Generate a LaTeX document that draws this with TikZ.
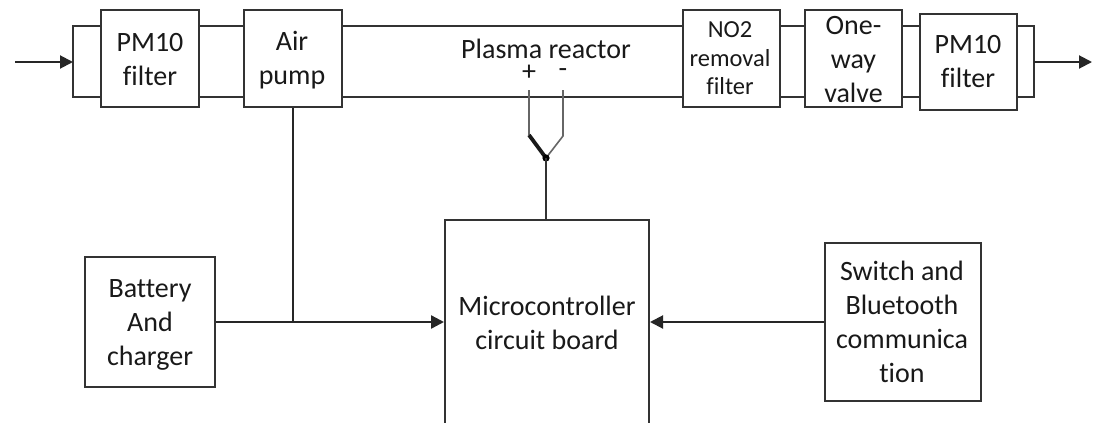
\documentclass[tikz,border=0pt]{standalone}
\usepackage{fontspec}
\setmainfont[Ligatures=NoCommon]{Carlito}
\usetikzlibrary{arrows.meta}
\definecolor{linecol}{gray}{0.2}
\definecolor{textcol}{gray}{0.1}
\tikzset{
  every node/.style={text=textcol,font=\fontsize{28}{34}\selectfont},
  box/.style={draw=linecol,line width=2pt,fill=white,inner sep=0pt,align=center},
  lbl/.style={inner sep=0pt,align=center},
  wire/.style={draw=linecol,line width=2pt},
  thinwire/.style={draw=black!60,line width=1.6pt},
  sig/.style={draw=black!85,line width=2pt},
  arr/.style={sig,-{Triangle[length=13pt,width=13pt]}},
}
\begin{document}
\begin{tikzpicture}[x=1pt,y=-1pt]
\useasboundingbox (0,0) rectangle (1095,423);
\clip (0,0) rectangle (1095,423);
\fill[white] (0,0) rectangle (1095,423);
% rail levels and free ends
\coordinate (rt) at (0,26);
\coordinate (rb) at (0,97);
\coordinate (lc) at (73,62);
\coordinate (rc) at (1034,62);
\coordinate (inlet) at (15,62);
\coordinate (outlet) at (1092,62);
% boxes
\node[box,minimum width=98pt,minimum height=97pt] (pma) at (150,58.5) {};
\node[lbl] (pmatxt) at (150,60) {PM10\\filter};
\node[box,minimum width=98pt,minimum height=97pt] (air) at (293,58.5) {};
\node[lbl] (airtxt) at (292,60) {Air\\pump};
\node[box,minimum width=97pt,minimum height=97pt] (no2) at (731.5,58.5) {};
\node[lbl,font=\fontsize{24.5}{28.5}\selectfont] (no2txt) at (730,58.5) {NO2\\removal\\filter};
\node[box,minimum width=97pt,minimum height=97pt] (valve) at (853.5,58.5) {};
\node[lbl] (valvetxt) at (853.5,60) {One-\\way\\valve};
\node[box,minimum width=97pt,minimum height=96pt] (pmb) at (968.5,62) {};
\node[lbl] (pmbtxt) at (968,62) {PM10\\filter};
\node[box,minimum width=130pt,minimum height=130pt] (bat) at (150,322) {};
\node[lbl] (battxt) at (150,325) {Battery\\And\\charger};
\node[box,minimum width=204pt,minimum height=210pt] (mcu) at (547,325) {};
\node[lbl] (mcutxt) at (547,323) {Microcontroller\\circuit board};
\node[box,minimum width=156pt,minimum height=158pt] (sw) at (903,322) {};
\node[lbl] (swtxt) at (902,322) {Switch and\\Bluetooth\\communica\\tion};
\node[lbl,font=\fontsize{28}{30}\selectfont] (plasma) at (546,49) {Plasma reactor};
\node[lbl] (plus) at (529,73) {+};
\node[lbl] (minus) at (563,73) {-};
% reactor rails
\foreach \r in {rt,rb}{
  \draw[wire] (lc |- \r) -- (pma.west |- \r);
  \draw[wire] (pma.east |- \r) -- (air.west |- \r);
  \draw[wire] (air.east |- \r) -- (no2.west |- \r);
  \draw[wire] (no2.east |- \r) -- (valve.west |- \r);
  \draw[wire] (valve.east |- \r) -- (pmb.west |- \r);
  \draw[wire] (pmb.east |- \r) -- (rc |- \r);
}
\draw[wire,line cap=rect] (lc |- rt) -- (lc |- rb);
\draw[wire,line cap=rect] (rc |- rt) -- (rc |- rb);
% flow in and out
\draw[arr] (inlet) -- (lc);
\draw[arr] (rc) -- (outlet);
% electrode switch
\coordinate (pivot) at (546,158);
\coordinate (plustop) at (529,90);
\coordinate (plusend) at (529,135);
\coordinate (minustop) at (563,90);
\coordinate (minusend) at (563,136);
\draw[thinwire] (plustop) -- (plusend);
\draw[thinwire] (minustop) -- (minusend) -- (pivot);
\draw[black!90,line width=3.8pt] (plusend) -- (pivot);
\fill[black] (pivot) circle (3.6pt);
\draw[wire] (pivot) -- (mcu.north -| pivot);
% control lines
\coordinate (junction) at (air.south |- bat.east);
\draw[sig] (air.south) -- (junction);
\draw[sig] (bat.east) -- (junction);
\draw[arr,line width=2.4pt] (junction) -- (mcu.west |- bat.east);
\draw[arr] (sw.west) -- (mcu.east |- sw.west);
\end{tikzpicture}
\end{document}
